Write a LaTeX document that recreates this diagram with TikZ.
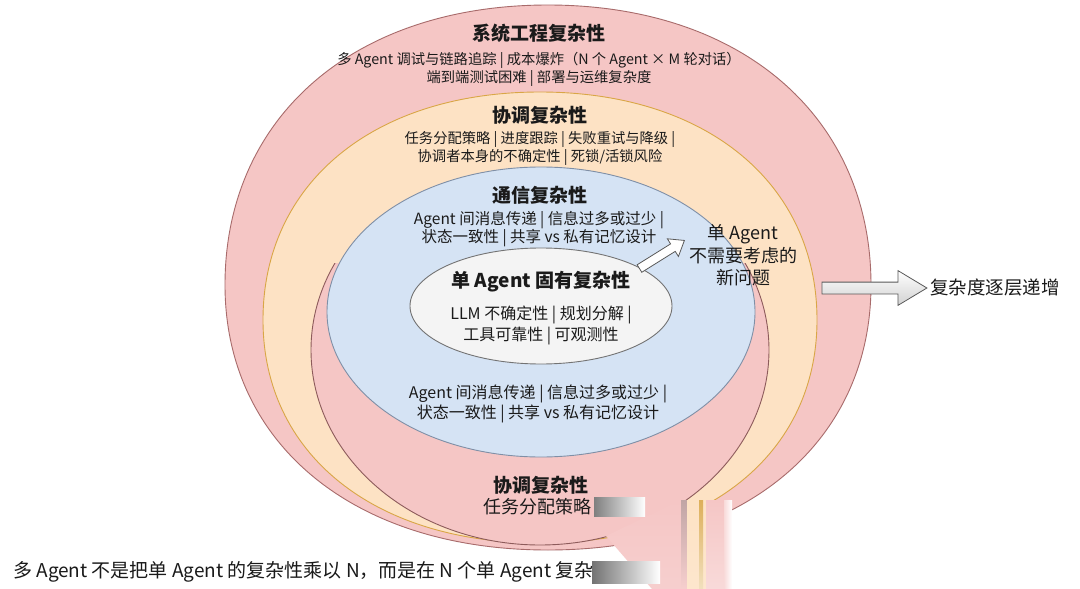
\documentclass[tikz,border=0pt]{standalone}
\usepackage{fontspec}
\setmainfont{Noto Sans CJK SC}
\usetikzlibrary{shapes.arrows,shapes.geometric,calc}
\definecolor{pinkF}{HTML}{F5C6C5}
\definecolor{pinkD}{HTML}{A86B6B}
\definecolor{pinkDD}{HTML}{8D5B5B}
\definecolor{orgF}{HTML}{FDE2C4}
\definecolor{orgD}{HTML}{D9A646}
\definecolor{bluF}{HTML}{D5E3F4}
\definecolor{bluD}{HTML}{7F8FA6}
\definecolor{whtF}{HTML}{F4F4F4}
\definecolor{txt}{HTML}{1A1A1A}
\tikzset{
  egg/.style n args={7}{insert path={(#1,#5) .. controls (#1,{#5-(#5-#3)*#7}) and ({#6-(#6-#1)*#7},#3) .. (#6,#3) .. controls ({#6+(#2-#6)*#7},#3) and (#2,{#5-(#5-#3)*#7}) .. (#2,#5) .. controls (#2,{#5+(#4-#5)*#7}) and ({#6+(#2-#6)*#7},#4) .. (#6,#4) .. controls ({#6-(#6-#1)*#7},#4) and (#1,{#5+(#4-#5)*#7}) .. (#1,#5) -- cycle}},
  ttl/.style={font=\bfseries\fontsize{19}{22}\selectfont, inner sep=0, text=txt},
  bodyA/.style={font=\fontsize{14.3}{17.5}\selectfont, align=center, inner sep=0, text=txt},
  bodyB/.style={font=\fontsize{15.5}{18}\selectfont, align=center, inner sep=0, text=txt},
  bodyC/.style={font=\fontsize{16}{21}\selectfont, align=center, inner sep=0, text=txt},
  big/.style={font=\fontsize{18}{22.5}\selectfont, align=center, inner sep=0, text=txt},
  hollowarrow/.style={single arrow, draw=black!65, line width=0.8pt, inner sep=0pt, text width=0pt, anchor=center},
}
\begin{document}
\begin{tikzpicture}[x=1pt,y=-1pt]
\useasboundingbox (0,0) rectangle (1080,589);
\fill[white] (0,0) rectangle (1080,589);

% outer: system engineering
\path[fill=pinkF, draw=pinkD, line width=0.9pt, egg={225}{871}{5}{550}{285}{548}{0.6}];
% orange: coordination
\path[fill=orgF, draw=orgD, line width=0.9pt, egg={263}{817}{92}{543}{320}{540}{0.6}];
% inner pink (coordination, lower part)
\begin{scope}
  \clip (0,263) rectangle (1080,589);
  \path[fill=pinkF, draw=pinkDD, line width=0.9pt] (540,350) ellipse [x radius=229, y radius=195];
\end{scope}
% blue: communication
\node[ellipse, fill=bluF, draw=bluD, line width=0.9pt, minimum width=428pt, minimum height=290pt, inner sep=0] (comm) at (541,312) {};
% white: single agent
\node[ellipse, fill=whtF, draw=black!55, line width=0.9pt, minimum width=262pt, minimum height=116pt, inner sep=0] (single) at (541,306) {};

% bottom smeared region
\shade[top color=pinkF, bottom color=pinkF!85] (606,536) -- (683,499) -- (684,589) -- (652,589) -- cycle;
\shade[top color=pinkDD!55, bottom color=pinkF!85] (681,500) rectangle (687,589);
\shade[top color=orgF, bottom color=orgF!85] (687,500) rectangle (706,589);
\shade[top color=orgD!90, bottom color=orgD!35] (699,500) rectangle (703,589);
\shade[top color=pinkF, bottom color=pinkF!65] (706,500) rectangle (724,589);
\shade[left color=pinkF!65, right color=white] (724,500) rectangle (732,589);
\shade[left color=black!50, right color=white] (594,497) rectangle (645,516);
\shade[left color=black!55, right color=white] (592,561) rectangle (660,583);

% texts
\node[ttl] (t1) at (539,33) {系统工程复杂性};
\node[bodyA] (t1b) at (539,69.5) {多 Agent 调试与链路追踪 | 成本爆炸（N 个 Agent × M 轮对话）\\端到端测试困难 | 部署与运维复杂度};
\node[ttl] (t2) at (540,115) {协调复杂性};
\node[bodyA] (t2b) at (540,148.5) {任务分配策略 | 进度跟踪 | 失败重试与降级 |\\协调者本身的不确定性 | 死锁/活锁风险};
\node[ttl] (t3) at (540,195) {通信复杂性};
\node[bodyB] (t3b) at (539,229) {Agent 间消息传递 | 信息过多或过少 |\\状态一致性 | 共享 vs 私有记忆设计};
\node[ttl] (t4) at (541,282) {单 Agent 固有复杂性};
\node[bodyC] (t4b) at (541,325.5) {LLM 不确定性 | 规划分解 |\\工具可靠性 | 可观测性};
\node[bodyC, font=\fontsize{16}{20}\selectfont] (t3c) at (538,404) {Agent 间消息传递 | 信息过多或过少 |\\状态一致性 | 共享 vs 私有记忆设计};
\node[ttl] (t5) at (541,485) {协调复杂性};
\node[big, anchor=west] (t5b) at (483,507) {任务分配策略};
\node[big] (side) at (743,255.5) {单 Agent\\不需要考虑的\\新问题};
\node[big, font=\fontsize{18.5}{22}\selectfont, anchor=west] (incr) at (930,288) {复杂度逐层递增};
\node[big, font=\fontsize{19}{22}\selectfont, anchor=west] (foot) at (13,572) {多 Agent 不是把单 Agent 的复杂性乘以 N，而是在 N 个单 Agent 复杂};

% arrows
\coordinate (sa1) at (637,270);
\coordinate (sa2) at (682,242);
\node[hollowarrow, fill=white, rotate=32, minimum height=53pt, text height=8pt, text depth=0pt, single arrow head extend=6pt, single arrow tip angle=75] (arrS) at ($(sa1)!0.5!(sa2)$) {};
\coordinate (ba1) at (817,288);
\coordinate (ba2) at (922,288);
\node[hollowarrow, top color=white, bottom color=black!18, minimum height=105pt, text height=11pt, text depth=0pt, single arrow head extend=11.5pt, single arrow tip angle=62] (arrB) at ($(ba1)!0.5!(ba2)$) {};
\end{tikzpicture}
\end{document}
